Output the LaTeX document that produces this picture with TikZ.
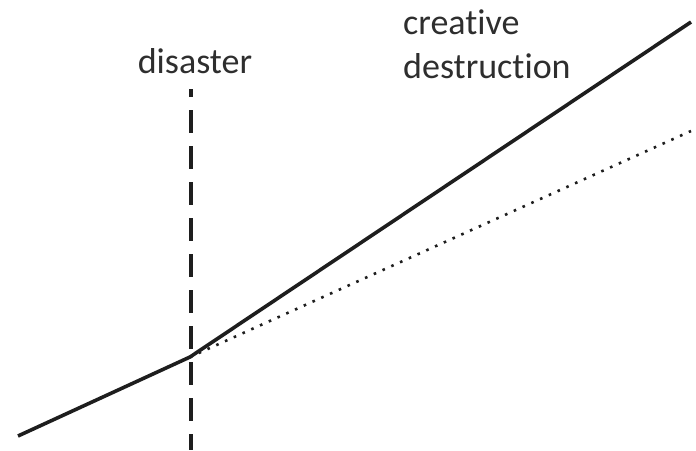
\documentclass[tikz,border=0pt]{standalone}
\usepackage{fontspec}
\setmainfont{Carlito}[Ligatures={NoCommon}]
\definecolor{linecol}{HTML}{1E1E1E}
\definecolor{textcol}{HTML}{2E2E2E}
\tikzset{
  lbl/.style={inner sep=0pt, text=textcol, font=\fontsize{36}{44}\selectfont},
  solidline/.style={draw=linecol, line width=3.6pt},
  dotline/.style={draw=linecol, line width=2.6pt, dash pattern=on 2.6pt off 7pt},
  dashline/.style={draw=linecol, line width=3.4pt, dash pattern=on 23pt off 13pt, dash phase=15pt}
}
\begin{document}
\begin{tikzpicture}[x=1pt,y=-1pt]
\useasboundingbox (0,0) rectangle (696,450);
\coordinate (start) at (18,436);
\coordinate (kink) at (190,357);
\coordinate (top) at (691,22);
\coordinate (dotend) at (691,131);
\coordinate (dtop) at (191,89);
\coordinate (dbot) at (191,450);
\draw[dashline] (dtop) -- (dbot);
\draw[dotline] (kink) -- (dotend);
\draw[solidline, line join=round] (start) -- (kink) -- (top);
\node[lbl, anchor=base] (dis) at (195,73) {disaster};
\node[lbl, anchor=base west] (cre) at (403,34) {creative};
\node[lbl, anchor=base west] (des) at (403,78) {destruction};
\end{tikzpicture}
\end{document}
